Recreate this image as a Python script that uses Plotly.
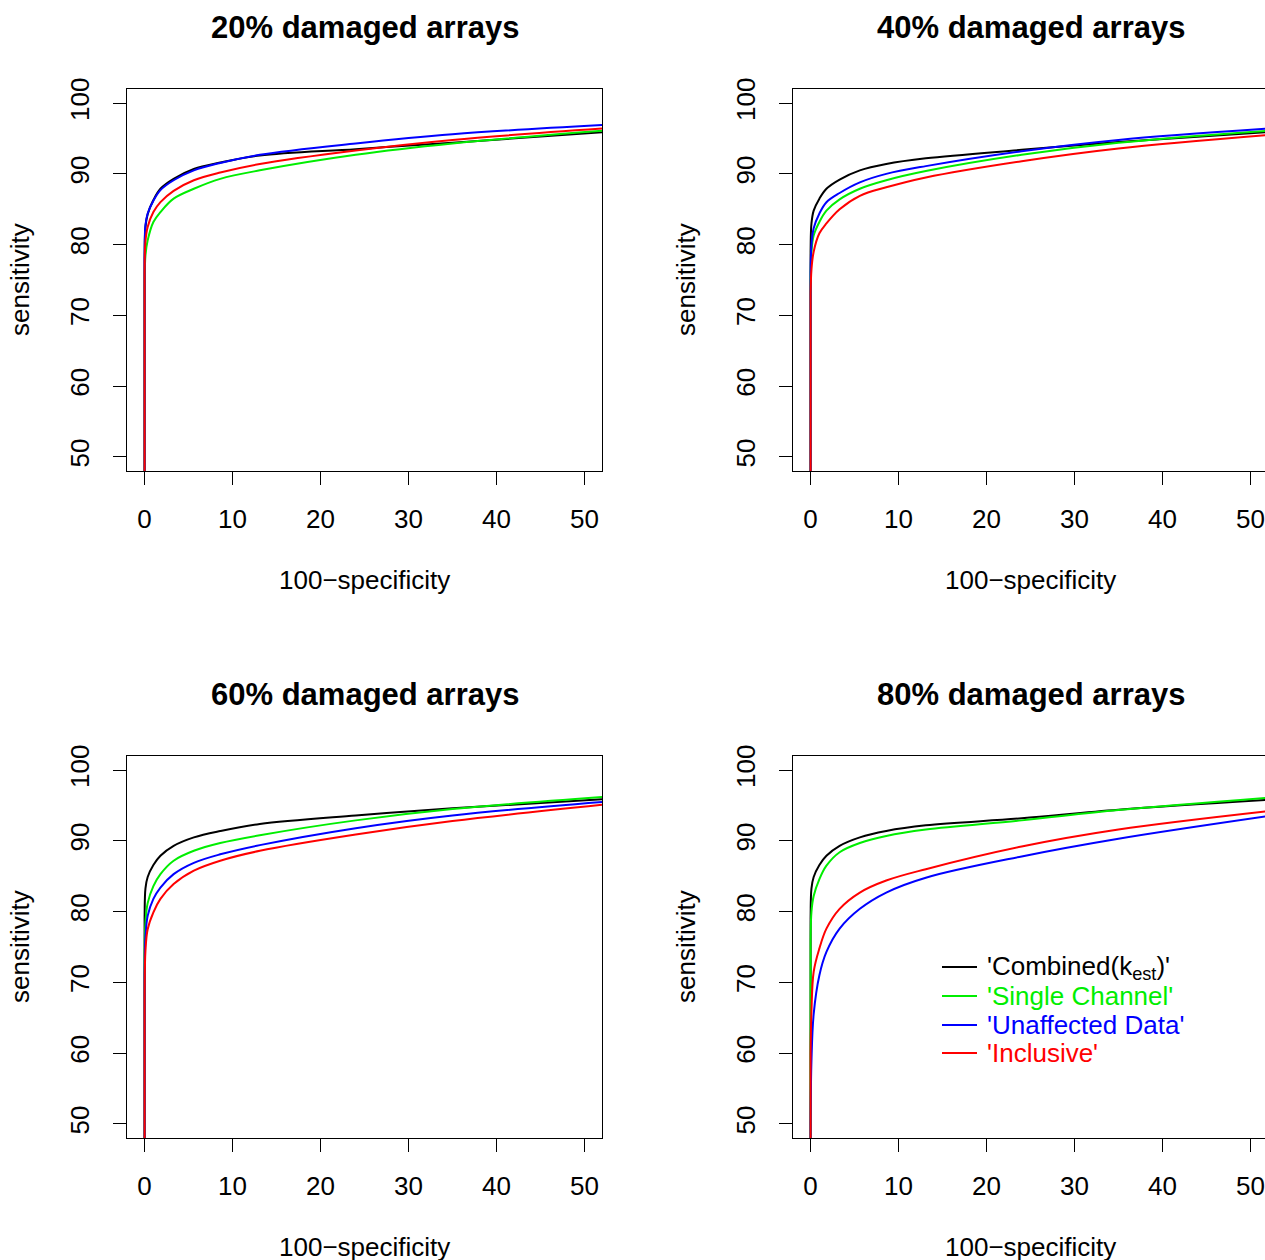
import plotly.graph_objects as go

W, H = 1265, 1260

# ---------------- data ----------------
fpr = [0, 0, 0.1, 0.35, 1, 1.8, 3.3, 5.6, 8.6, 13.1, 24, 35, 52]

titles = ["20% damaged arrays", "40% damaged arrays", "60% damaged arrays", "80% damaged arrays"]

series_names = ["'Combined(k<sub>est</sub>)'", "'Single Channel'", "'Unaffected Data'", "'Inclusive'"]
series_colors = ["#000000", "#00ee00", "#0000ff", "#ff0000"]

# 20% damaged
p20_combined = [0, 78, 82.5, 84.3, 86.3, 87.9, 89.3, 90.7, 91.6, 92.6, 93.5, 94.4, 95.9]
p20_single = [0, 74, 78.5, 80.6, 83.2, 84.6, 86.5, 87.9, 89.3, 90.5, 92.7, 94.3, 96.1]
p20_unaff = [0, 78, 82.8, 84.4, 86.2, 87.7, 89.1, 90.5, 91.55, 92.7, 94.3, 95.6, 96.9]
p20_incl = [0, 76, 80.5, 82.5, 84.6, 86.0, 87.6, 89.1, 90.2, 91.4, 93.3, 94.8, 96.4]

# 40% damaged
p40_combined = [0, 79, 83.0, 84.8, 86.5, 87.9, 89.2, 90.5, 91.4, 92.2, 93.4, 94.5, 95.9]
p40_single = [0, 75, 79.0, 81.3, 83.2, 84.8, 86.4, 87.9, 89.1, 90.4, 92.7, 94.4, 96.1]
p40_unaff = [0, 76, 80.0, 82.3, 84.4, 86.0, 87.3, 88.8, 90.0, 91.1, 93.2, 94.8, 96.4]
p40_incl = [0, 73, 76.5, 79.0, 81.6, 83.0, 85.0, 86.9, 88.1, 89.5, 91.8, 93.6, 95.5]

# 60% damaged
p60_combined = [0, 79, 83.3, 84.9, 86.6, 87.9, 89.3, 90.5, 91.4, 92.4, 93.6, 94.6, 95.9]
p60_single = [0, 74, 78.5, 81.2, 83.6, 85.3, 87.2, 88.6, 89.7, 90.8, 92.9, 94.5, 96.2]
p60_unaff = [0, 71, 76.5, 79.4, 81.8, 83.4, 85.3, 86.9, 88.1, 89.4, 91.8, 93.6, 95.5]
p60_incl = [0, 68, 74.5, 77.5, 79.9, 81.8, 83.9, 85.8, 87.2, 88.6, 90.9, 92.8, 95.1]

# 80% damaged
p80_combined = [0, 79, 83.3, 84.9, 86.6, 87.9, 89.3, 90.5, 91.4, 92.2, 93.2, 94.4, 95.8]
p80_single = [0, 76, 80.0, 82.2, 84.6, 86.5, 88.4, 89.7, 90.7, 91.6, 92.9, 94.35, 96.1]
p80_unaff = [0, 50, 59.0, 65.5, 71.0, 74.3, 77.6, 80.4, 82.7, 84.8, 87.8, 90.3, 93.5]
p80_incl = [0, 60, 66.0, 71.5, 74.8, 77.6, 80.4, 82.7, 84.4, 86.0, 89.2, 91.6, 94.2]

panels = [
    [p20_combined, p20_single, p20_unaff, p20_incl],
    [p40_combined, p40_single, p40_unaff, p40_incl],
    [p60_combined, p60_single, p60_unaff, p60_incl],
    [p80_combined, p80_single, p80_unaff, p80_incl],
]

x_ticks = [0, 10, 20, 30, 40, 50]
y_ticks = [50, 60, 70, 80, 90, 100]

# ---------------- layout geometry (pixels) ----------------
# plot boxes: (left, top, right, bottom)
boxes = [(127, 89, 602, 471), (793, 89, 1268, 471),
         (127, 756, 602, 1138), (793, 756, 1268, 1138)]
XR = (-2, 52)
YR = (48, 102)

FONT = "Liberation Sans, Arial, Helvetica, sans-serif"
TICKSZ = 26
TITLESZ = 31

fig = go.Figure()
layout = dict(width=W, height=H,
              margin=dict(l=0, r=0, t=0, b=0, pad=0, autoexpand=False),
              paper_bgcolor="white", plot_bgcolor="white", showlegend=False,
              font=dict(family=FONT, size=TICKSZ, color="black"))
annotations = []
shapes = []

for i, (box, data) in enumerate(zip(boxes, panels)):
    L, T, R, B = box
    idx = "" if i == 0 else str(i + 1)
    xa = "xaxis" + idx
    ya = "yaxis" + idx
    px_per_unit = (R - L) / (XR[1] - XR[0])
    Rv = min(R, W)
    x_hi = XR[0] + (Rv - L) / px_per_unit
    cut = R > W
    layout[xa] = dict(domain=[L / W, Rv / W], range=[XR[0], x_hi],
                      anchor="y" + idx, tickvals=x_ticks, ticks="outside",
                      ticklen=13, tickwidth=1.3, tickcolor="black",
                      showline=True, linecolor="black", linewidth=1.3, mirror=True,
                      showgrid=False, zeroline=False, automargin=False,
                      tickfont=dict(size=TICKSZ, family=FONT, color="black"),
                      ticklabelstandoff=12)
    layout[ya] = dict(domain=[1 - B / H, 1 - T / H], range=list(YR),
                      anchor="x" + idx, tickvals=y_ticks, ticks="outside",
                      ticklen=13, tickwidth=1.3, tickcolor="black",
                      showline=True, linecolor="black", linewidth=1.3,
                      mirror=(not cut), automargin=False,
                      showgrid=False, zeroline=False, tickangle=-90,
                      tickfont=dict(size=TICKSZ, family=FONT, color="black"),
                      ticklabelstandoff=13)
    for ys, name, col in zip(data, series_names, series_colors):
        fig.add_trace(go.Scatter(x=fpr, y=ys, mode="lines", name=name,
                                 line=dict(color=col, width=2, shape="spline", smoothing=1.0),
                                 xaxis="x" + idx, yaxis="y" + idx, hoverinfo="skip"))
    cx = (L + R) / 2
    cy = (T + B) / 2
    annotations.append(dict(text="<b>" + titles[i] + "</b>", x=cx / W, y=1 - (T - 62) / H,
                            xref="paper", yref="paper", showarrow=False,
                            xanchor="center", yanchor="middle",
                            font=dict(size=TITLESZ, family=FONT, color="black")))
    annotations.append(dict(text="100\u2212specificity", x=cx / W, y=1 - (B + 109) / H,
                            xref="paper", yref="paper", showarrow=False,
                            xanchor="center", yanchor="middle",
                            font=dict(size=TICKSZ, family=FONT, color="black")))
    annotations.append(dict(text="sensitivity", x=(L - 107) / W, y=1 - cy / H,
                            xref="paper", yref="paper", showarrow=False, textangle=-90,
                            xanchor="center", yanchor="middle",
                            font=dict(size=TICKSZ, family=FONT, color="black")))

# legend inside the 80% panel
leg_rows = [967, 996, 1025, 1053]
for name, col, ry in zip(series_names, series_colors, leg_rows):
    shapes.append(dict(type="line", xref="paper", yref="paper",
                       x0=942 / W, x1=977 / W, y0=1 - ry / H, y1=1 - ry / H,
                       line=dict(color=col, width=2)))
    annotations.append(dict(text=name, x=985 / W, y=1 - ry / H, xref="paper", yref="paper",
                            showarrow=False, xanchor="left", yanchor="middle",
                            font=dict(size=TICKSZ, family=FONT, color=col)))

layout["annotations"] = annotations
layout["shapes"] = shapes
fig.update_layout(**layout)
fig.write_html("out.html")
